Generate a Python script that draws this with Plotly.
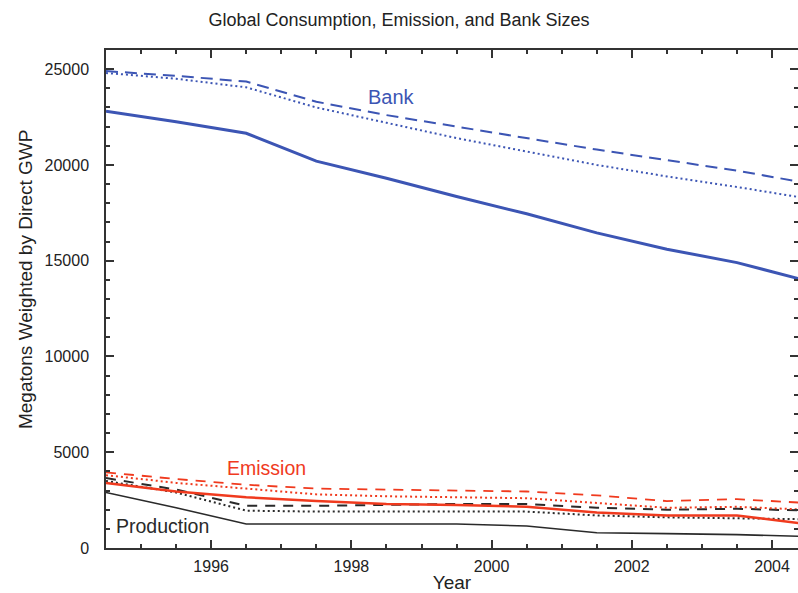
import plotly.graph_objects as go

years = [1994.5, 1995.5, 1996.5, 1997.5, 1998.5, 1999.5, 2000.5, 2001.5, 2002.5, 2003.5, 2004.5]

bank_solid = [22800, 22250, 21650, 20200, 19300, 18350, 17450, 16450, 15600, 14900, 13950]
bank_dash = [24900, 24650, 24350, 23300, 22600, 22000, 21400, 20800, 20250, 19700, 19050]
bank_dot = [24800, 24500, 24050, 23000, 22200, 21400, 20700, 20000, 19400, 18850, 18250]

emis_solid = [3400, 2950, 2650, 2450, 2300, 2250, 2150, 1850, 1700, 1700, 1250]
emis_dash = [3950, 3600, 3300, 3100, 3050, 3000, 2950, 2750, 2450, 2550, 2350]
emis_dot = [3800, 3400, 3100, 2800, 2700, 2650, 2600, 2350, 2100, 2150, 2000]

prod_solid = [2900, 2100, 1250, 1250, 1250, 1250, 1150, 800, 750, 700, 600]
prod_dash = [3650, 3050, 2200, 2200, 2250, 2300, 2300, 2100, 2000, 2050, 1950]
prod_dot = [3500, 2900, 1950, 1900, 1900, 1900, 1900, 1700, 1600, 1550, 1500]

BLUE = "#3c55b4"
RED = "#f03a1e"
BLACK = "#2a2a2a"

fig = go.Figure()

def add(y, color, width, dash):
    fig.add_trace(go.Scatter(x=years, y=y, mode="lines",
                             line=dict(color=color, width=width, dash=dash),
                             showlegend=False, hoverinfo="skip"))

add(prod_solid, BLACK, 1.6, "solid")
add(prod_dot, BLACK, 2, "2px,3px")
add(prod_dash, BLACK, 2, "10px,8px")
add(emis_solid, RED, 2.5, "solid")
add(emis_dot, RED, 2, "2px,3px")
add(emis_dash, RED, 1.8, "10px,8px")
add(bank_solid, BLUE, 3, "solid")
add(bank_dot, BLUE, 2, "2px,3px")
add(bank_dash, BLUE, 2, "12px,7px")

FONT = "Liberation Sans, Arial, sans-serif"

fig.add_annotation(x=1998.57, y=23550, text="Bank", showarrow=False,
                   font=dict(family=FONT, size=20, color=BLUE))
fig.add_annotation(x=1996.79, y=4180, text="Emission", showarrow=False,
                   font=dict(family=FONT, size=19.5, color=RED))
fig.add_annotation(x=1995.31, y=1150, text="Production", showarrow=False,
                   font=dict(family=FONT, size=19.5, color=BLACK))
# y-axis title (placed as annotation to match the reference's offset)
fig.add_annotation(xref="paper", yref="paper", x=-81 / 692, y=0.54,
                   text="Megatons Weighted by Direct GWP", textangle=-90,
                   showarrow=False, xanchor="center", yanchor="middle",
                   font=dict(family=FONT, size=19, color="#222"))

fig.update_layout(
    width=798, height=593,
    margin=dict(l=106, r=0, t=50, b=45),
    paper_bgcolor="white", plot_bgcolor="white",
    font=dict(family=FONT, color="#222222"),
    title=dict(text="Global Consumption, Emission, and Bank Sizes",
               x=0.5, xref="container", xanchor="center",
               y=0.966, yref="container", yanchor="middle",
               font=dict(family=FONT, size=18, color="#222222")),
)

fig.update_xaxes(
    range=[1994.5, 2004.37],
    automargin=False,
    tickvals=[1996, 1998, 2000, 2002, 2004],
    ticks="inside", ticklen=8, tickwidth=1.5, tickcolor="#333",
    minor=dict(dtick=0.5, tick0=1994.5, ticks="inside", ticklen=4, tickwidth=1.5, tickcolor="#333"),
    showline=True, linecolor="#333", linewidth=1.5, mirror="ticks",
    showgrid=False, zeroline=False,
    ticklabelstandoff=3,
    tickfont=dict(family=FONT, size=16, color="#222"),
    title=dict(text="Year", font=dict(family=FONT, size=19, color="#222"), standoff=10),
)
fig.update_yaxes(
    range=[0, 26000],
    automargin=False,
    tickvals=[0, 5000, 10000, 15000, 20000, 25000],
    tickformat="d",
    ticks="inside", ticklen=8, tickwidth=1.5, tickcolor="#333",
    minor=dict(dtick=1000, tick0=0, ticks="inside", ticklen=4, tickwidth=1.5, tickcolor="#333"),
    showline=True, linecolor="#333", linewidth=1.5, mirror="ticks",
    showgrid=False, zeroline=False,
    ticklabelstandoff=12,
    tickfont=dict(family=FONT, size=16, color="#222"),
)

fig.write_html("out.html")
